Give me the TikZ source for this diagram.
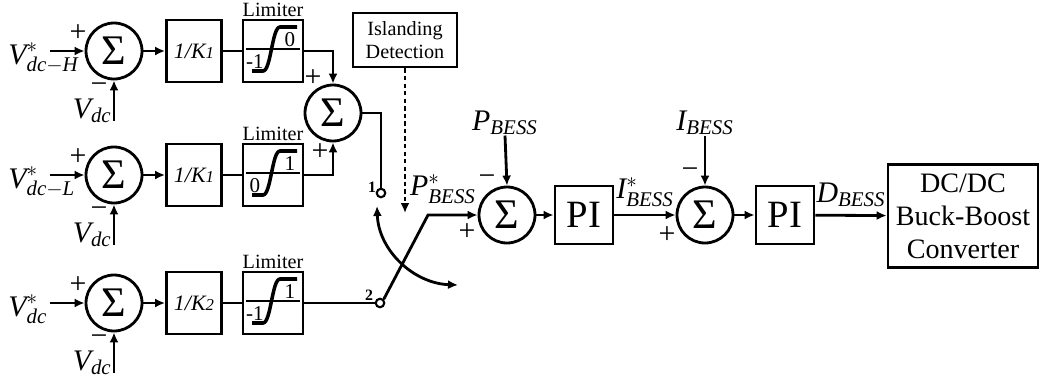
\documentclass[tikz,border=0pt]{standalone}
\usepackage{amsmath}
\usepackage{fontspec}
\setmainfont{Liberation Serif}
\usepackage{tikz}
\usetikzlibrary{arrows.meta,positioning,calc}
\tikzset{
  sumc/.style={circle,draw,line width=1.6pt,minimum size=1.12cm,inner sep=0pt,font=\fontsize{24}{26}\selectfont},
  blk/.style={draw,line width=1.6pt,inner sep=0pt},
  lbl/.style={font=\fontsize{17}{20}\selectfont,inner sep=0pt},
  sig/.style={font=\fontsize{17}{17}\selectfont,inner sep=0pt},
  term/.style={circle,draw,line width=1.2pt,fill=white,inner sep=0pt,minimum size=0.17cm},
  sig line/.style={line width=1.6pt,-{Latex[length=2mm,width=1.8mm]}},
  wire/.style={line width=1.6pt}
}

\begin{document}
\begin{tikzpicture}[x=0.02cm,y=-0.02cm]
  \useasboundingbox (0,0) rectangle (1041,389);
  % three voltage loops
  \foreach \r/\y/\vsub/\kk/\lo/\hi in {1/51/{\textit{dc}-\textit{H}}/1/-1/0,
                                      2/175/{\textit{dc}-\textit{L}}/1/0/1,
                                      3/303/{\textit{dc}}/2/-1/1}{
    \node[sumc] (sr\r) at (114,\y) {Σ};
    \node[blk, minimum width=1.1cm, minimum height=1.24cm, font=\itshape\fontsize{12.5}{14}\selectfont]
         (k\r) at (194,\y) {1/K{\fontsize{9.5}{10}\selectfont\kk}};
    \node[blk, minimum width=1.2cm, minimum height=1.24cm] (lim\r) at (273,\y) {};
    \node[font=\fontsize{11.5}{13}\selectfont, anchor=south, inner sep=1pt] (lt\r) at (lim\r.north) {Limiter};
    \node[lbl, anchor=base west] (vr\r) at (8,\y+13) {$\textit{V}^{*}_{\vsub}$};
    \node[lbl, anchor=base east] (vf\r) at (112,\y+67) {$\textit{V}_{\textit{dc}}$};
    \coordinate (in\r) at (50,\y);
    \coordinate (fb\r) at (114,\y+70);
    \node[sig] (pl\r) at (78,\y-18) {+};
    \node[sig] (mi\r) at (99,\y+37) {−};
    \draw[sig line] (in\r) -- (sr\r);
    \draw[sig line] (fb\r) -- (sr\r);
    \draw[sig line] (sr\r) -- (k\r);
    \draw[wire] (k\r) -- (lim\r);
    \begin{scope}[shift={(lim\r.center)}]
      \draw[line width=0.8pt] (-27,-2) -- (27,-2);
      \draw[line width=2pt] (-21,20) -- (-10,20) .. controls (-2,20) and (-1,-24) .. (7,-24) -- (24,-24);
      \node[font=\fontsize{12}{13}\selectfont, inner sep=0pt] (hi\r) at (17,-11) {\hi};
      \node[font=\fontsize{12}{13}\selectfont, inner sep=0pt] (lo\r) at (-18,11) {\lo};
    \end{scope}
  }

  % adding the two limited outputs
  \node[sumc] (sadd) at (333,113) {Σ};
  \node[sig] (pa) at (313,78) {+};
  \node[sig] (pb) at (320,152) {+};
  \draw[sig line] (lim1.east) -| (sadd.north);
  \draw[sig line] (lim2.east) -| (sadd.south);

  % switch
  \node[term] (t1) at (381,193) {};
  \node[term] (t2) at (380,303) {};
  \node[font=\bfseries\fontsize{9}{9}\selectfont, inner sep=0pt] (n1) at (372,187) {1};
  \node[font=\bfseries\fontsize{9}{9}\selectfont, inner sep=0pt] (n2) at (369,295) {2};
  \draw[wire] (sadd.east) -| (t1.north);
  \draw[wire] (lim3.east) -- (t2.west);
  \coordinate (bl) at (428,215);
  \coordinate (ca) at (377,206);
  \coordinate (cb) at (458,285);
  \draw[wire, {Latex[length=2mm,width=1.8mm]}-{Latex[length=2mm,width=1.8mm]}] (ca) to[out=-88,in=178] (cb);

  \node[blk, align=center, minimum width=2.08cm, minimum height=1.08cm, font=\fontsize{11.5}{13}\selectfont]
       (isl) at (405,40) {Islanding\\Detection};
  \coordinate (isd) at (405,213);
  \draw[line width=1.5pt, dash pattern=on 2.5pt off 1.8pt, -{Latex[length=2mm,width=1.8mm]}] (isl) -- (isd);

  % power and current loops
  \node[sumc] (sp) at (507,215) {Σ};
  \node[lbl] (pref) at (443,189) {$\textit{P}^{*}_{\textit{BESS}}$};
  \draw[sig line] (t2.north east) -- (bl) -- (sp.west);
  \node[lbl] (pm) at (505,123) {$\textit{P}_{\textit{BESS}}$};
  \draw[sig line] (pm.south) -- (sp.north);
  \node[sig] (m3) at (487,180) {−};
  \node[sig] (p3) at (467,232) {+};

  \node[blk, minimum width=1.16cm, minimum height=1.16cm, font=\fontsize{22}{24}\selectfont] (pi1) at (584,215) {PI};
  \draw[sig line] (sp) -- (pi1);
  \node[sumc] (si) at (705,215) {Σ};
  \draw[sig line] (pi1) -- node[lbl, above=0.14cm] (iref) {$\textit{I}^{*}_{\textit{BESS}}$} (si);
  \node[lbl] (im) at (705,123) {$\textit{I}_{\textit{BESS}}$};
  \draw[sig line] (im.south) -- (si.north);
  \node[sig] (m4) at (690,173) {−};
  \node[sig] (p4) at (667,235) {+};

  \node[blk, minimum width=1.16cm, minimum height=1.16cm, font=\fontsize{22}{24}\selectfont] (pi2) at (785,215) {PI};
  \draw[sig line] (si) -- (pi2);
  \node[blk, align=center, minimum width=3.0cm, minimum height=2.06cm, font=\fontsize{16}{18.7}\selectfont]
       (conv) at (963,216) {DC/DC\\Buck-Boost\\Converter};
  \draw[sig line] (pi2) -- node[lbl, above=0.14cm] (dd) {$\textit{D}_{\textit{BESS}}$} (conv);
\end{tikzpicture}
\end{document}
